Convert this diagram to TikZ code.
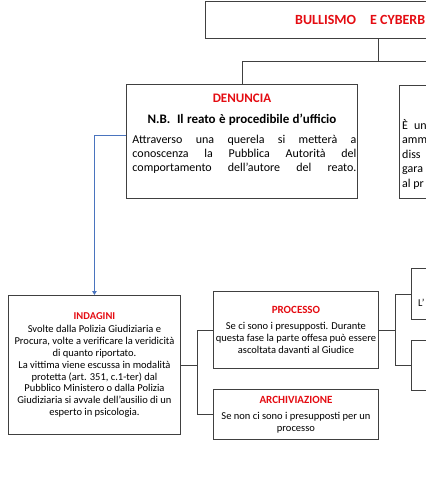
\documentclass[tikz,border=0pt]{standalone}
\usepackage{fontspec}
\setmainfont{Carlito}
\usetikzlibrary{arrows.meta}
\definecolor{titred}{RGB}{228,12,18}
\definecolor{boxgray}{RGB}{64,64,64}
\definecolor{linkblue}{RGB}{74,116,190}
\newcommand{\riga}[1]{\hspace*{5pt}\hbox to 224pt{#1}\par}

\tikzset{
  box/.style={draw=boxgray, line width=0.9pt, anchor=north west, inner sep=0pt, align=center},
  link/.style={draw=boxgray, line width=0.9pt},
  bluelink/.style={draw=linkblue, line width=0.9pt, -{Triangle[length=4pt,width=4.5pt]}},
  small/.style={font=\fontsize{10.5}{11.9}\selectfont}
}

\begin{document}
\begin{tikzpicture}[x=1pt,y=-1pt]
  \useasboundingbox (0,0) rectangle (426,480);
  \clip (0,0) rectangle (426,480);

  % titolo
  \node[box, minimum width=346pt, minimum height=37pt] (titolo) at (205,1) {};
  \node[anchor=base west, inner sep=0pt, font=\fontsize{14}{17}\selectfont\bfseries\color{titred}] (titolotesto) at (295,24) {BULLISMO\hspace{14pt}E CYBERB};

  % denuncia
  \node[box, minimum width=231pt, minimum height=114pt] (denuncia) at (126,84) {};
  \node[anchor=north, inner sep=0pt, text width=231pt, align=center] (denunciatesto) at ([yshift=-10pt]denuncia.north) {%
    {\fontsize{13}{20.6}\selectfont\bfseries\color{titred}DENUNCIA\\
    \color{black}N.B.\ \ Il reato è procedibile d’ufficio\par}
    \vspace{5.4pt}
    {\fontsize{12}{14.4}\selectfont
    \riga{Attraverso\hfill una\hfill querela\hfill si\hfill metterà\hfill a}
    \riga{conoscenza\hfill la\hfill Pubblica\hfill Autorità\hfill del}
    \riga{comportamento\hfill dell’autore\hfill del\hfill reato.}}};

  % ammonimento
  \node[box, minimum width=231pt, minimum height=113pt] (ammonimento) at (399,85) {};
  \node[anchor=north west, inner sep=0pt, align=left, font=\fontsize{12}{14.5}\selectfont] (ammonimentotesto) at (402,119) {È\hspace{6pt}un\\amm\\diss\\gara\\al pr};

  \draw[link] (titolo.south) -- ++(0,23) -| (denuncia.north);
  \draw[link] (titolo.south) -- ++(0,23) -| (ammonimento.north);

  % indagini
  \node[box, small, minimum width=172pt, minimum height=139pt] (indagini) at (8,295) {%
    {\fontsize{10.5}{12}\selectfont\bfseries\color{titred}INDAGINI}\\[1.3pt]
    Svolte dalla Polizia Giudiziaria e\\
    Procura, volte a verificare la veridicità\\
    di quanto riportato.\\
    La vittima viene escussa in modalità\\
    protetta (art. 351, c.1-ter) dal\\
    Pubblico Ministero o dalla Polizia\\
    Giudiziaria si avvale dell'ausilio di un\\
    esperto in psicologia.};

  \draw[bluelink] ([yshift=6pt]denuncia.west) -| (indagini.north);

  % processo / archiviazione
  \node[box, small, minimum width=165pt, minimum height=77pt] (processo) at (213,291) {%
    {\fontsize{11}{17}\selectfont\bfseries\color{titred}PROCESSO}\\[4.5pt]
    Se ci sono i presupposti. Durante\\
    questa fase la parte offesa può essere\\
    ascoltata davanti al Giudice};
  \node[box, small, minimum width=165pt, minimum height=50pt] (archiviazione) at (213,389) {%
    {\fontsize{11}{17}\selectfont\bfseries\color{titred}ARCHIVIAZIONE}\\[4.5pt]
    Se non ci sono i presupposti per un\\
    processo};

  \draw[link] (indagini.east) -- ++(17,0) |- (processo.west);
  \draw[link] (indagini.east) -- ++(17,0) |- (archiviazione.west);

  % esiti del processo
  \node[box, minimum width=165pt, minimum height=51pt] (condanna) at (411,268) {};
  \node[anchor=base west, inner sep=0pt, small] (condannatesto) at (418,306) {L’};
  \node[box, minimum width=165pt, minimum height=50pt] (assoluzione) at (411,340) {};

  \draw[link] (processo.east) -- ++(17,0) |- (condanna.west);
  \draw[link] (processo.east) -- ++(17,0) |- (assoluzione.west);
\end{tikzpicture}
\end{document}
